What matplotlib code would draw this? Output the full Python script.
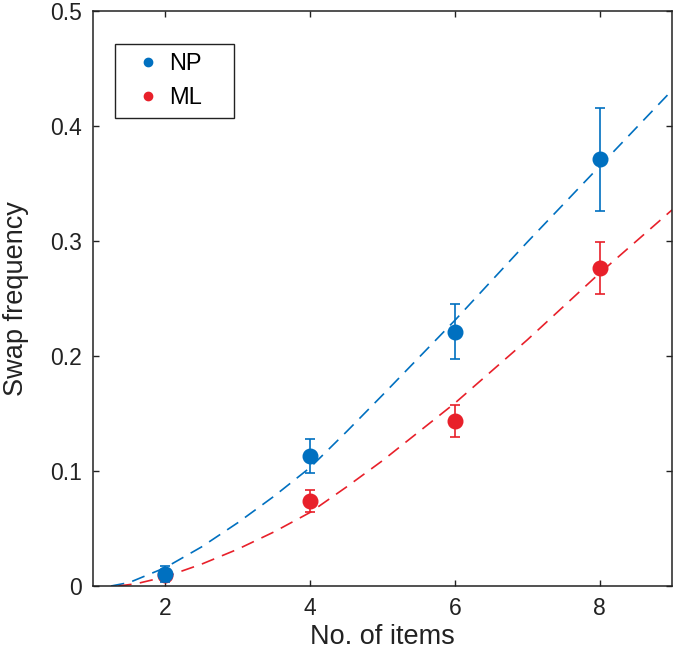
from matplotlib import pyplot as plt
from matplotlib.lines import Line2D

# data
n_items = [2, 4, 6, 8]
np_swap = [0.0105, 0.113, 0.221, 0.371]
np_err = [0.007, 0.015, 0.024, 0.045]
ml_swap = [0.0095, 0.074, 0.1435, 0.2765]
ml_err = [0.004, 0.0095, 0.0135, 0.0225]

# dashed model curves, read at a handful of x positions
fit_x_np = [1.25, 1.5, 2, 2.5, 3, 3.5, 4, 4.5, 5, 6, 7, 8, 9]
fit_np = [0.0, 0.003, 0.016, 0.034, 0.055, 0.078, 0.103, 0.134, 0.166, 0.231, 0.299, 0.365, 0.431]
fit_x_ml = [1.35, 1.6, 2, 2.5, 3, 3.5, 4, 4.5, 5, 6, 7, 8, 9]
fit_ml = [0.0, 0.002, 0.008, 0.019, 0.032, 0.047, 0.064, 0.086, 0.109, 0.159, 0.214, 0.272, 0.327]

blue = '#0070C0'
red = '#E8202A'

plt.rcParams['font.family'] = ['Liberation Sans', 'DejaVu Sans']

fig = plt.figure(figsize=(6.75, 6.52), dpi=100)
ax = fig.add_axes([93 / 675, 66 / 652, 579 / 675, 575 / 652])

# fitted curves
ax.plot(fit_x_np, fit_np, color=blue, lw=1.2, dashes=(8, 5), zorder=1)
ax.plot(fit_x_ml, fit_ml, color=red, lw=1.2, dashes=(8, 5), zorder=1)

# data with error bars
ax.errorbar(n_items, ml_swap, yerr=ml_err, fmt='o', color=red, ms=10.5,
            elinewidth=1.2, capsize=3.4, capthick=1.2, zorder=2)
ax.errorbar(n_items, np_swap, yerr=np_err, fmt='o', color=blue, ms=10.5,
            elinewidth=1.2, capsize=3.4, capthick=1.2, zorder=3)

ax.set_xlim(1, 9)
ax.set_ylim(0, 0.5)
ax.set_xticks([2, 4, 6, 8])
ax.set_yticks([0, 0.1, 0.2, 0.3, 0.4, 0.5])
ax.set_yticklabels(['0', '0.1', '0.2', '0.3', '0.4', '0.5'])
ax.tick_params(direction='in', length=4.5, width=1, top=True, right=True,
               labelsize=16.5, colors='#222222', pad=8)
for s in ax.spines.values():
    s.set_linewidth(1.1)
    s.set_color('#222222')

ax.set_xlabel('No. of items', fontsize=19.5, color='#222222', labelpad=3)
ax.set_ylabel('Swap frequency', fontsize=19.5, color='#222222', labelpad=15)

handles = [Line2D([], [], ls='none', marker='o', ms=6, color=blue),
           Line2D([], [], ls='none', marker='o', ms=6, color=red)]
leg = ax.legend(handles, ['NP', 'ML'], loc='upper left',
                bbox_to_anchor=(0.038, 0.5, 0.2055, 0.443), mode='expand',
                borderaxespad=0, fontsize=17, fancybox=False, framealpha=1,
                edgecolor='#222222', handlelength=2.0, handletextpad=-0.1)
leg.get_frame().set_linewidth(1.0)

plt.savefig('out.png', dpi=100)
